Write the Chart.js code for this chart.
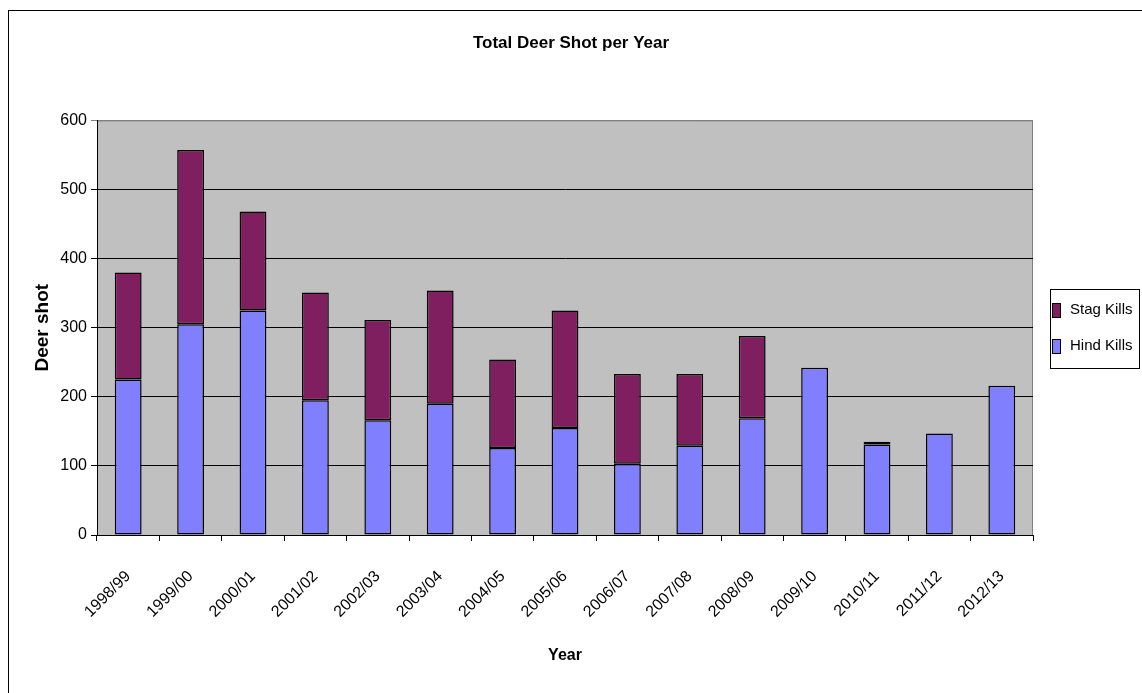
<!DOCTYPE html>
<html>
<head>
<meta charset="utf-8">
<title>Total Deer Shot per Year</title>
<script src="https://cdn.jsdelivr.net/npm/chart.js@4/dist/chart.umd.min.js"></script>
<style>
    html, body {
        margin: 0;
        padding: 0;
        background: #ffffff;
        overflow: hidden;
    }
    #frame {
        position: absolute;
        left: 8px;
        top: 10px;
        width: 1160px;
        height: 720px;
        border: 1px solid #000000;
    }
    #deerChart {
        position: absolute;
        left: 0;
        top: 0;
    }
</style>
</head>
<body>
<div id="frame"></div>
<canvas id="deerChart" width="1142" height="693"></canvas>
<script>
const seasons = ['1998/99', '1999/00', '2000/01', '2001/02', '2002/03', '2003/04', '2004/05', '2005/06',
    '2006/07', '2007/08', '2008/09', '2009/10', '2010/11', '2011/12', '2012/13'];
const hindKills = [225, 305, 325, 195, 166, 190, 126, 155, 103, 129, 169, 242, 131, 147, 216];
const stagKills = [155, 252, 143, 156, 145, 164, 128, 170, 130, 104, 119, 0, 4, 0, 0];
const yTicks = [0, 100, 200, 300, 400, 500, 600];

const fontFamily = '"Liberation Sans", Arial, sans-serif';

// grey plot area with a grey frame on top and right, like the old Excel charts
const plotBackground = {
    id: 'plotBackground',
    beforeDraw(chart) {
        const { ctx, chartArea } = chart;
        ctx.save();
        ctx.fillStyle = '#c0c0c0';
        ctx.fillRect(chartArea.left, chartArea.top, chartArea.right - chartArea.left, chartArea.bottom - chartArea.top);
        ctx.strokeStyle = '#808080';
        ctx.lineWidth = 1;
        ctx.beginPath();
        ctx.moveTo(chartArea.left, chartArea.top + 0.5);
        ctx.lineTo(chartArea.right - 0.5, chartArea.top + 0.5);
        ctx.lineTo(chartArea.right - 0.5, chartArea.bottom);
        ctx.stroke();
        ctx.restore();
    }
};

// boxed legend on the right, stag first as in the original
const boxedLegend = {
    id: 'boxedLegend',
    afterDraw(chart) {
        const { ctx } = chart;
        const items = chart.data.datasets.slice().reverse();
        const boxLeft = 1050, boxTop = 289, boxWidth = 89, boxHeight = 79;
        ctx.save();
        ctx.fillStyle = '#ffffff';
        ctx.fillRect(boxLeft, boxTop, boxWidth, boxHeight);
        ctx.strokeStyle = '#000000';
        ctx.lineWidth = 1;
        ctx.strokeRect(boxLeft + 0.5, boxTop + 0.5, boxWidth, boxHeight);
        ctx.font = `15px ${fontFamily}`;
        ctx.textBaseline = 'middle';
        items.forEach((ds, i) => {
            const y = 310 + i * 36;
            ctx.fillStyle = ds.backgroundColor;
            ctx.fillRect(boxLeft + 2, y - 7, 8, 14);
            ctx.strokeStyle = '#000000';
            ctx.strokeRect(boxLeft + 2.5, y - 6.5, 8, 14);
            ctx.fillStyle = '#000000';
            ctx.fillText(ds.label, boxLeft + 20, y);
        });
        ctx.restore();
    }
};

new Chart(document.getElementById('deerChart'), {
    type: 'bar',
    data: {
        labels: seasons,
        datasets: [{
            label: 'Hind Kills',
            data: hindKills,
            backgroundColor: '#8080ff',
            borderColor: '#000000',
            borderWidth: 1.5,
            borderSkipped: false,
            barPercentage: 0.43,
            categoryPercentage: 1
        }, {
            label: 'Stag Kills',
            data: stagKills,
            backgroundColor: '#801f5f',
            borderColor: '#000000',
            borderWidth: 1.5,
            borderSkipped: false,
            barPercentage: 0.43,
            categoryPercentage: 1
        }]
    },
    options: {
        responsive: false,
        animation: false,
        devicePixelRatio: 1,
        layout: {
            padding: 0
        },
        plugins: {
            legend: { display: false },
            tooltip: { enabled: false },
            title: {
                display: true,
                text: 'Total Deer Shot per Year',
                color: '#000000',
                font: { family: fontFamily, size: 17, weight: 'bold' },
                padding: { top: 33, bottom: 67 }
            }
        },
        scales: {
            x: {
                stacked: true,
                offset: true,
                grid: {
                    display: true,
                    drawOnChartArea: false,
                    drawTicks: true,
                    tickLength: 6,
                    color: '#000000',
                    offset: true
                },
                border: { display: true, color: '#000000', width: 1 },
                ticks: {
                    autoSkip: false,
                    maxRotation: 45,
                    minRotation: 45,
                    padding: 26,
                    color: '#000000',
                    font: { family: fontFamily, size: 16 }
                },
                title: {
                    display: true,
                    text: 'Year',
                    color: '#000000',
                    font: { family: fontFamily, size: 16, weight: 'bold' },
                    padding: { top: 0, bottom: 28 }
                },
                afterFit(scale) {
                    scale.height = 158;
                }
            },
            y: {
                stacked: true,
                min: 0,
                max: 600,
                grid: {
                    drawTicks: true,
                    tickLength: 6,
                    color: (ctx) => ctx.tick && ctx.tick.value === 600 ? '#808080' : '#000000'
                },
                border: { display: true, color: '#000000', width: 1 },
                afterBuildTicks(scale) {
                    scale.ticks = yTicks.map(v => ({ value: v }));
                },
                ticks: {
                    padding: 4,
                    color: '#000000',
                    font: { family: fontFamily, size: 16 }
                },
                title: {
                    display: true,
                    text: 'Deer shot',
                    color: '#000000',
                    font: { family: fontFamily, size: 19, weight: 'bold' },
                    padding: { top: 31, bottom: 0 }
                },
                afterFit(scale) {
                    scale.width = 97;
                }
            },
            // empty right-hand axis that reserves the room for the legend box
            legendSpace: {
                type: 'linear',
                position: 'right',
                display: true,
                grid: { display: false, drawTicks: false },
                border: { display: false },
                ticks: { display: false },
                afterFit(scale) {
                    scale.width = 109;
                }
            }
        }
    },
    plugins: [plotBackground, boxedLegend]
});
</script>
</body>
</html>
